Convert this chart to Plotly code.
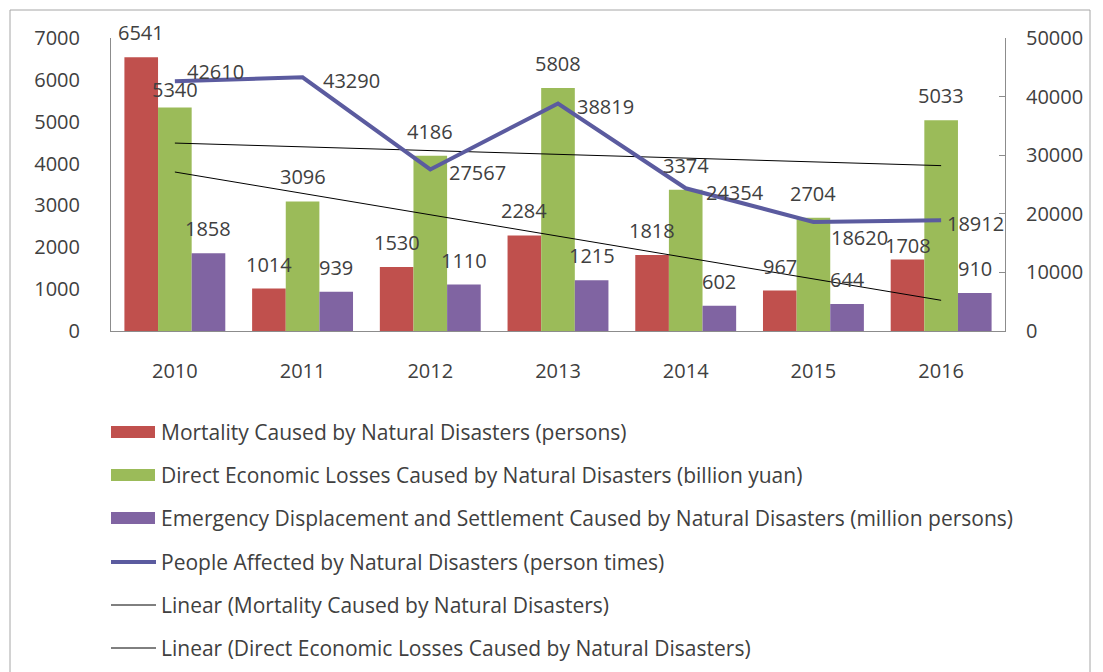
import numpy as np
import plotly.graph_objects as go

years = ["2010", "2011", "2012", "2013", "2014", "2015", "2016"]
mortality = [6541, 1014, 1530, 2284, 1818, 967, 1708]
economic = [5340, 3096, 4186, 5808, 3374, 2704, 5033]
displacement = [1858, 939, 1110, 1215, 602, 644, 910]
affected = [42610, 43290, 27567, 38819, 24354, 18620, 18912]

names = [
    "Mortality Caused by Natural Disasters (persons)",
    "Direct Economic Losses Caused by Natural Disasters (billion yuan)",
    "Emergency Displacement and Settlement Caused by Natural Disasters (million persons)",
    "People Affected by Natural Disasters (person times)",
    "Linear (Mortality Caused by Natural Disasters)",
    "Linear (Direct Economic Losses Caused by Natural Disasters)",
]

# ---- style ----
FONT = "Open Sans, DejaVu Sans, sans-serif"
TXT = "#404040"
BAR_COLORS = ["#C0504D", "#9BBB59", "#8064A2"]
LINE_COLOR = "#5B5B9F"
BARGAP = 0.21
# label nudges (pixels) mimicking the reference's label placement
bar_label_lift = [
    [9, 9, 9, 9, 9, 9, -1],   # mortality
    [2, 9, 9, 9, 9, 9, 9],    # economic
    [9, 9, 9, 9, 9, 9, 9],    # displacement
]
line_label_dx = [10, 18, 17, 17, 18, 16, 4]
line_label_dy = [10, -3, -3, -3, -4, -16, -3]

# page body has an 8px margin; plot area spans x 111..1005, y 38..331 on the page
OFF = 8
W, H = 1103 - OFF, 672 - OFF
L, T = 111 - OFF, 38 - OFF
R = 1103 - 1005
B = H - (331 - OFF)
PW, PH = 1005 - 111, 331 - 38


def px_x(x):
    return (x - 111) / PW


def px_y(y):
    return (331 - y) / PH


xpos = np.arange(len(years))


def linfit(vals):
    k, b = np.polyfit(xpos, np.array(vals, dtype=float), 1)
    return list(k * xpos + b)


trend_mort = linfit(mortality)
trend_econ = linfit(economic)

fig = go.Figure()
annotations = []
bar_w = (1 - BARGAP) / 3
for i, (vals, col) in enumerate(zip([mortality, economic, displacement], BAR_COLORS)):
    fig.add_trace(go.Bar(
        x=xpos, y=vals, name=names[i], marker=dict(color=col, line=dict(width=0)),
    ))
    for j, v in enumerate(vals):
        annotations.append(dict(
            xref="x", yref="y", x=xpos[j] + (i - 1) * bar_w, y=v,
            xanchor="center", yanchor="bottom", yshift=bar_label_lift[i][j],
            showarrow=False, text=str(v),
            font=dict(size=20, color=TXT, family=FONT),
        ))

fig.add_trace(go.Scatter(
    x=xpos, y=affected, name=names[3], mode="lines",
    line=dict(color=LINE_COLOR, width=4), yaxis="y2",
))
for j, v in enumerate(affected):
    annotations.append(dict(
        xref="x", yref="y2", x=xpos[j], y=v,
        xanchor="left", yanchor="middle",
        xshift=line_label_dx[j], yshift=line_label_dy[j],
        showarrow=False, text=str(v),
        font=dict(size=20, color=TXT, family=FONT),
    ))

fig.add_trace(go.Scatter(
    x=xpos, y=trend_mort, name=names[4], mode="lines",
    line=dict(color="#000000", width=1),
))
fig.add_trace(go.Scatter(
    x=xpos, y=trend_econ, name=names[5], mode="lines",
    line=dict(color="#000000", width=1),
))

# manual legend (wide swatches as in the reference)
rows_y = [432, 475, 518, 562, 605, 648]
shapes = [dict(
    type="rect", xref="paper", yref="paper",
    x0=px_x(10), x1=px_x(1090), y0=px_y(700), y1=px_y(10),
    line=dict(color="#A6A6A6", width=1), fillcolor="rgba(0,0,0,0)", layer="below",
)]
for i, ry in enumerate(rows_y):
    if i < 3:
        shapes.append(dict(
            type="rect", xref="paper", yref="paper",
            x0=px_x(111), x1=px_x(155), y0=px_y(ry + 6), y1=px_y(ry - 6),
            line=dict(width=0), fillcolor=BAR_COLORS[i],
        ))
    else:
        shapes.append(dict(
            type="line", xref="paper", yref="paper",
            x0=px_x(111), x1=px_x(156), y0=px_y(ry), y1=px_y(ry),
            line=dict(color=LINE_COLOR if i == 3 else "#000000", width=4 if i == 3 else 1),
        ))
    annotations.append(dict(
        xref="paper", yref="paper", x=px_x(159), y=px_y(ry),
        xanchor="left", yanchor="middle", showarrow=False,
        text=names[i], font=dict(size=21, color=TXT, family=FONT),
    ))

fig.update_layout(
    width=W, height=H,
    margin=dict(l=L, r=R, t=T, b=B, autoexpand=False),
    paper_bgcolor="white", plot_bgcolor="white",
    font=dict(family=FONT, size=20, color=TXT),
    barmode="group", bargap=BARGAP, bargroupgap=0,
    showlegend=False,
    xaxis=dict(
        range=[-0.5, len(years) - 0.5], tickvals=list(xpos), ticktext=years,
        showgrid=False, showline=True, linecolor="#8C8C8C", zeroline=False,
        linewidth=1, ticks="", tickfont=dict(size=20, color=TXT), ticklabelstandoff=22,
    ),
    yaxis=dict(
        range=[0, 7000], dtick=1000, showgrid=False, showline=True,
        linecolor="#8C8C8C", linewidth=1, ticks="", ticklabelstandoff=26,
        tickfont=dict(size=20, color=TXT), zeroline=False,
    ),
    yaxis2=dict(
        range=[0, 50000], dtick=10000, overlaying="y", side="right",
        showgrid=False, showline=True, linecolor="#8C8C8C", linewidth=1,
        ticks="inside", ticklen=6, tickcolor="#8C8C8C", ticklabelstandoff=16,
        tickformat="d",
        tickfont=dict(size=20, color=TXT), zeroline=False,
    ),
    shapes=shapes,
    annotations=annotations,
)

fig.write_html("out.html")
